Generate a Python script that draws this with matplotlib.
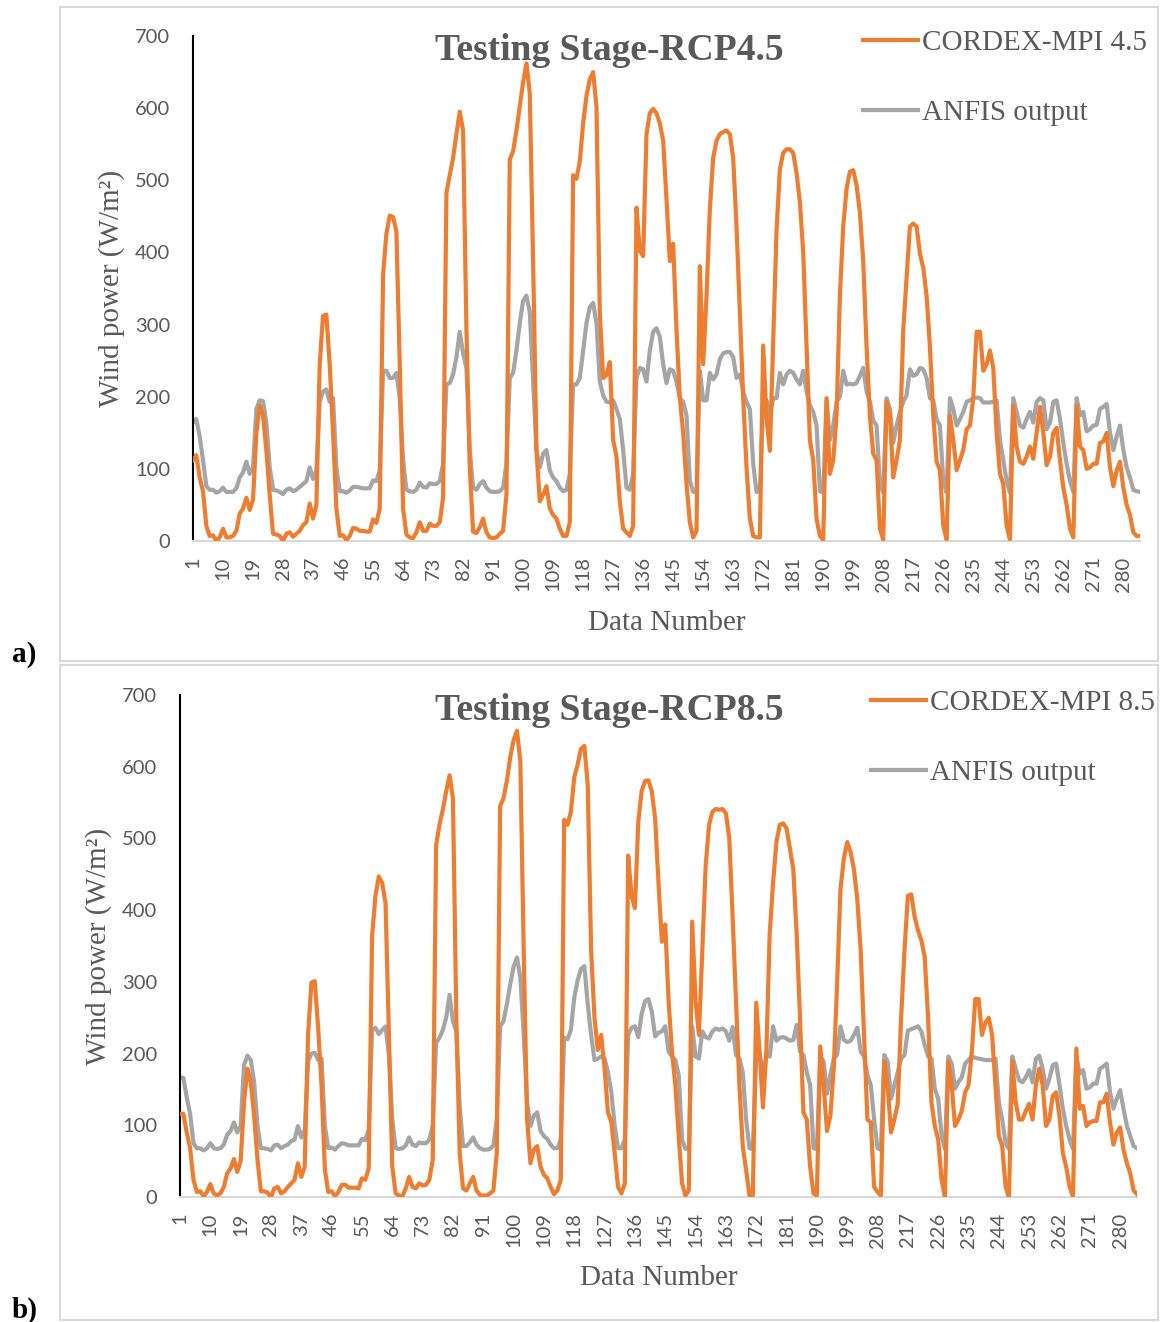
import matplotlib
matplotlib.use("Agg")
import matplotlib.pyplot as plt
from matplotlib.lines import Line2D
from matplotlib.patches import Rectangle
import numpy as np

# RCP4.5 panel (a)
cordex_45 = [
    112, 119, 88, 69, 21, 7, 8, 0, 5, 17,
    5, 5, 7, 14, 38, 45, 60, 43, 57, 150,
    188, 174, 126, 64, 10, 9, 7, 0, 10, 12,
    6, 10, 14, 22, 26, 52, 31, 50, 245, 312,
    314, 245, 150, 45, 7, 8, 1, 7, 18, 17,
    14, 14, 13, 13, 30, 25, 45, 369, 426, 451,
    449, 429, 245, 45, 9, 5, 4, 12, 26, 14,
    14, 24, 21, 21, 26, 60, 483, 507, 531, 564,
    595, 569, 293, 102, 13, 11, 19, 31, 12, 5,
    4, 5, 10, 14, 64, 529, 540, 569, 602, 636,
    662, 621, 388, 126, 55, 64, 76, 45, 36, 31,
    17, 7, 7, 26, 507, 502, 526, 579, 617, 640,
    650, 602, 317, 226, 230, 248, 140, 117, 55, 17,
    12, 7, 21, 462, 402, 395, 564, 593, 599, 593,
    579, 555, 474, 388, 412, 293, 198, 150, 79, 26,
    5, 14, 381, 245, 340, 460, 531, 555, 564, 567,
    569, 564, 531, 436, 317, 198, 102, 31, 7, 5,
    5, 271, 170, 125, 280, 430, 515, 538, 543, 543,
    538, 510, 470, 400, 270, 140, 112, 31, 7, 2,
    198, 93, 112, 174, 340, 436, 488, 512, 514, 493,
    455, 388, 269, 174, 121, 112, 17, 2, 193, 174,
    88, 112, 140, 293, 364, 436, 440, 436, 398, 379,
    340, 269, 174, 110, 98, 21, 2, 174, 140, 98,
    112, 126, 155, 160, 198, 290, 290, 236, 245, 264,
    240, 150, 93, 79, 21, 2, 188, 131, 110, 107,
    117, 131, 114, 150, 186, 150, 105, 117, 150, 157,
    112, 74, 50, 17, 5, 188, 131, 126, 100, 102,
    107, 107, 136, 138, 150, 102, 76, 98, 110, 74,
    50, 36, 12, 7, 7,
]
anfis_45 = [
    164, 169, 145, 112, 76, 71, 71, 67, 69, 74,
    68, 68, 68, 73, 88, 95, 110, 93, 102, 183,
    195, 194, 164, 102, 71, 70, 68, 65, 71, 73,
    69, 71, 75, 79, 83, 102, 86, 98, 193, 207,
    210, 193, 198, 102, 69, 69, 67, 70, 75, 75,
    74, 73, 73, 73, 84, 83, 98, 236, 236, 226,
    226, 233, 198, 112, 71, 69, 68, 71, 81, 75,
    74, 80, 79, 79, 83, 107, 217, 219, 231, 255,
    290, 260, 240, 126, 74, 71, 79, 83, 74, 69,
    68, 68, 69, 74, 107, 226, 233, 264, 302, 333,
    340, 317, 221, 126, 102, 121, 126, 98, 88, 83,
    74, 69, 71, 93, 217, 217, 226, 264, 302, 324,
    330, 302, 221, 202, 193, 192, 195, 183, 169, 126,
    74, 71, 93, 226, 240, 238, 221, 264, 290, 295,
    283, 245, 219, 238, 236, 221, 198, 193, 174, 83,
    68, 69, 236, 195, 195, 233, 224, 231, 252, 260,
    262, 262, 255, 226, 231, 207, 193, 183, 107, 68,
    69, 193, 195, 174, 198, 198, 233, 217, 231, 236,
    233, 224, 217, 236, 207, 188, 179, 160, 69, 67,
    195, 140, 160, 193, 200, 236, 217, 218, 217, 219,
    229, 240, 207, 193, 167, 160, 79, 67, 198, 183,
    136, 160, 179, 193, 202, 238, 229, 231, 240, 238,
    226, 198, 195, 169, 160, 83, 67, 198, 183, 160,
    169, 179, 193, 195, 198, 199, 198, 192, 192, 192,
    193, 195, 140, 112, 83, 67, 198, 179, 160, 157,
    169, 179, 164, 193, 198, 195, 155, 164, 193, 195,
    169, 136, 107, 83, 68, 198, 174, 179, 152, 155,
    160, 161, 183, 186, 190, 150, 126, 145, 160, 126,
    102, 88, 71, 69, 68,
]

# RCP8.5 panel (b)
cordex_85 = [
    116, 116, 90, 68, 24, 7, 8, 1, 7, 18,
    5, 2, 5, 14, 33, 40, 53, 35, 50, 132,
    179, 160, 113, 52, 8, 8, 6, 0, 12, 14,
    5, 8, 14, 19, 24, 47, 28, 42, 226, 299,
    301, 236, 156, 38, 7, 8, 1, 7, 17, 17,
    13, 13, 13, 12, 26, 24, 40, 363, 420, 447,
    438, 410, 226, 42, 5, 2, 1, 12, 28, 14,
    12, 19, 16, 17, 24, 52, 490, 519, 540, 566,
    588, 556, 250, 61, 12, 9, 19, 28, 9, 3,
    2, 2, 5, 9, 61, 545, 556, 580, 613, 637,
    650, 608, 344, 108, 47, 66, 71, 42, 31, 26,
    14, 4, 9, 24, 526, 519, 537, 585, 603, 625,
    629, 575, 344, 250, 205, 226, 179, 118, 104, 61,
    14, 5, 19, 476, 420, 403, 523, 566, 580, 581,
    566, 528, 438, 356, 380, 273, 203, 156, 85, 19,
    2, 9, 384, 273, 226, 344, 462, 519, 537, 541,
    540, 541, 535, 500, 391, 273, 156, 71, 38, 2,
    2, 271, 203, 125, 203, 367, 438, 495, 519, 521,
    514, 486, 457, 367, 250, 118, 108, 42, 5, 2,
    210, 156, 92, 113, 179, 297, 429, 472, 495, 481,
    457, 415, 344, 226, 108, 104, 14, 7, 2, 189,
    156, 90, 108, 130, 250, 344, 420, 422, 391, 372,
    358, 335, 250, 132, 99, 80, 24, 0, 189, 156,
    99, 108, 120, 146, 156, 203, 276, 276, 226, 243,
    250, 226, 156, 85, 71, 14, 0, 189, 132, 108,
    108, 120, 130, 108, 156, 179, 156, 99, 108, 141,
    146, 113, 61, 42, 14, 1, 207, 123, 127, 99,
    104, 106, 106, 132, 132, 144, 104, 73, 90, 97,
    66, 47, 33, 9, 4,
]
anfis_85 = [
    167, 166, 139, 116, 75, 68, 68, 65, 68, 75,
    68, 67, 68, 73, 87, 92, 104, 90, 99, 184,
    197, 191, 160, 99, 68, 68, 67, 65, 72, 73,
    68, 71, 73, 78, 80, 99, 83, 94, 189, 200,
    201, 191, 193, 99, 68, 69, 66, 71, 75, 74,
    72, 72, 72, 72, 81, 79, 94, 233, 236, 227,
    233, 238, 198, 108, 68, 67, 68, 72, 83, 73,
    71, 76, 75, 75, 80, 99, 215, 222, 233, 250,
    282, 245, 231, 127, 71, 71, 76, 83, 73, 68,
    66, 66, 67, 72, 108, 238, 245, 269, 297, 321,
    334, 306, 226, 132, 99, 113, 118, 92, 85, 81,
    73, 68, 68, 80, 222, 220, 233, 278, 302, 318,
    322, 269, 226, 191, 193, 196, 193, 174, 146, 99,
    68, 68, 80, 226, 236, 238, 223, 255, 273, 276,
    259, 224, 229, 231, 238, 203, 196, 191, 170, 80,
    67, 68, 238, 196, 193, 231, 223, 221, 231, 235,
    233, 235, 231, 218, 237, 198, 193, 174, 108, 68,
    67, 193, 199, 174, 196, 196, 238, 218, 222, 223,
    221, 218, 219, 240, 203, 198, 174, 156, 68, 67,
    196, 189, 144, 170, 193, 198, 238, 219, 216, 218,
    226, 236, 203, 196, 170, 156, 108, 68, 66, 198,
    189, 137, 156, 174, 193, 198, 232, 234, 236, 238,
    231, 212, 196, 193, 151, 137, 85, 67, 196, 186,
    151, 160, 167, 186, 191, 196, 194, 193, 192, 191,
    191, 191, 193, 132, 108, 75, 67, 196, 179, 163,
    160, 167, 177, 160, 193, 197, 179, 151, 165, 184,
    186, 156, 123, 99, 80, 67, 196, 172, 177, 151,
    153, 158, 158, 179, 182, 186, 146, 123, 137, 149,
    123, 99, 85, 71, 68,
]

y_ticks = [0, 100, 200, 300, 400, 500, 600, 700]
x_ticks = list(range(1, 281, 9))

ORANGE = "#ED7D31"
GRAY = "#A5A5A5"
TXT = "#595959"
SERIF = "Liberation Serif"

W, H = 1161, 1322


def draw_panel(fig, rect, cordex, anfis, title, cordex_name, title_xy, legend_xy,
               ylab_x, panel_letter, letter_y):
    ax = fig.add_axes(rect)
    x1 = np.arange(1, len(cordex) + 1)
    x2 = np.arange(1, len(anfis) + 1)
    ax.plot(x1, cordex, color=ORANGE, lw=3.0, solid_joinstyle="round", zorder=3)
    ax.plot(x2, anfis, color=GRAY, lw=3.0, solid_joinstyle="round", zorder=2)

    ax.set_xlim(1, 285)
    ax.set_ylim(0, 700)
    ax.set_yticks(y_ticks)
    ax.set_xticks(x_ticks)
    ax.set_xticklabels([str(t) for t in x_ticks], rotation=90)
    ax.tick_params(axis="both", length=0, labelsize=14.5, labelcolor=TXT)
    ax.tick_params(axis="y", pad=16.5)
    ax.tick_params(axis="x", pad=11)
    for lab in ax.get_xticklabels() + ax.get_yticklabels():
        lab.set_family("Lato")

    for s in ["top", "right"]:
        ax.spines[s].set_visible(False)
    ax.spines["left"].set_color("black")
    ax.spines["left"].set_linewidth(1.5)
    ax.spines["bottom"].set_color("#D9D9D9")
    ax.spines["bottom"].set_linewidth(1.5)
    ax.set_facecolor("none")

    ax.set_ylabel("Wind power (W/m²)", family=SERIF, fontsize=21, color=TXT)
    ax.yaxis.set_label_coords(ylab_x, 0.5)
    ax.yaxis.label.set_va("center")
    ax.set_xlabel("Data Number", family=SERIF, fontsize=21, color=TXT)
    ax.xaxis.set_label_coords(0.5, -0.162)
    ax.xaxis.label.set_va("center")

    fig.text(title_xy[0] / W, 1 - title_xy[1] / H, title, family=SERIF,
             fontsize=27, fontweight="bold", color=TXT, ha="center", va="center")

    handles = [Line2D([], [], color=ORANGE, lw=3.0),
               Line2D([], [], color=GRAY, lw=3.0)]
    ax.legend(handles, [cordex_name, "ANFIS output"], loc="upper left",
              bbox_to_anchor=(legend_xy[0] / W, 1 - legend_xy[1] / H),
              bbox_transform=fig.transFigure, frameon=False,
              prop={"family": SERIF, "size": 21}, labelcolor=TXT,
              handlelength=1.88, handletextpad=0.15, labelspacing=1.48,
              borderpad=0, borderaxespad=0)

    fig.text(12 / W, 1 - letter_y / H, panel_letter, family=SERIF, fontsize=21,
             fontweight="bold", color="black", ha="left", va="center")
    return ax


fig = plt.figure(figsize=(W / 100, H / 100), dpi=100)

# panel frames
fig.patches.append(Rectangle((60 / W, 1 - 661 / H), 1098 / W, 654 / H, fill=False,
                             edgecolor="#D9D9D9", lw=1.5, transform=fig.transFigure))
fig.patches.append(Rectangle((60 / W, 1 - 1320 / H), 1098 / W, 655 / H, fill=False,
                             edgecolor="#D9D9D9", lw=1.5, transform=fig.transFigure))

draw_panel(fig, [193 / W, 1 - 541 / H, 947 / W, 505 / H], cordex_45, anfis_45,
           "Testing Stage-RCP4.5", "CORDEX-MPI 4.5", (609, 51), (863, 30),
           (112 - 193) / 947, "a)", 655)
draw_panel(fig, [180 / W, 1 - 1197 / H, 957 / W, 502 / H], cordex_85, anfis_85,
           "Testing Stage-RCP8.5", "CORDEX-MPI 8.5", (609, 710), (871, 690),
           (99 - 180) / 957, "b)", 1310)

fig.savefig("out.png", dpi=100)
